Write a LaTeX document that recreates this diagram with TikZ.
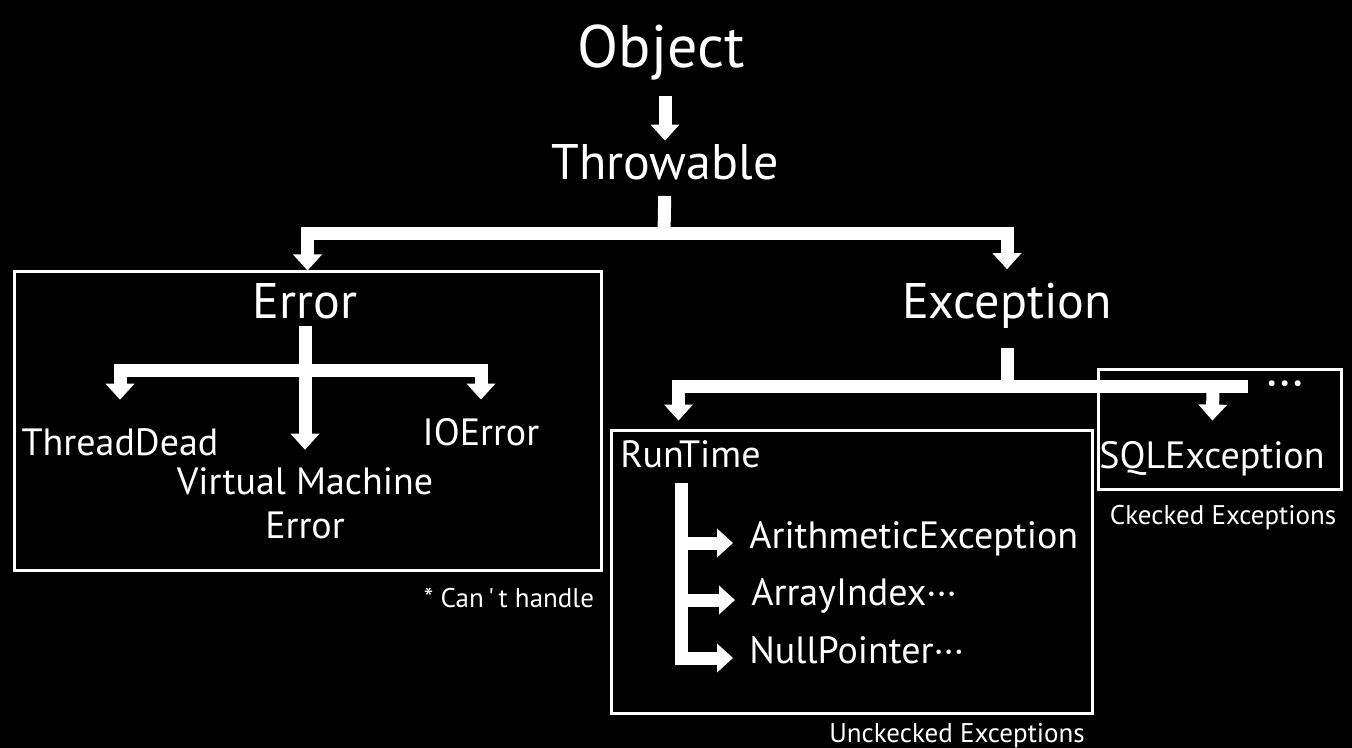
\documentclass[tikz,border=0pt]{standalone}
\usepackage{fontspec}
\setmainfont{PT Sans}
\usetikzlibrary{arrows.meta}
\tikzset{lbl/.style={text=white,inner sep=0pt,font=\fontsize{19}{22}\selectfont},big/.style={lbl,font=\fontsize{25}{28}\selectfont},note/.style={lbl,font=\fontsize{13.5}{15}\selectfont},frame/.style={draw=white,line width=1.5pt,inner sep=0pt},bar/.style={white,line width=6.5pt,line join=miter},flow/.style={bar,-{Triangle[width=14pt,length=8pt]}}}

\begin{document}
\begin{tikzpicture}[x=0.5pt,y=-0.5pt]
      \fill[black](0,0) rectangle (1352,748);
      % top of the tree
      \node[lbl,font=\fontsize{30}{34}\selectfont,anchor=base](obj) at (661,68){Object};
      \node[big,anchor=base](thr) at (665,180){Throwable};
      \node[big,anchor=base](err) at (305,318){Error};
      \node[big,anchor=base](exc) at (1007,318){Exception};
      % boxes
      \node[frame,minimum width=293.5pt,minimum height=149pt](errbox) at (307.5,421){};
      \node[frame,minimum width=240.5pt,minimum height=141.5pt](rtbox) at (851.5,571.5){};
      \node[frame,minimum width=121.5pt,minimum height=60pt](sqlbox) at (1219.5,429){};
      % error side
      \node[lbl,anchor=base](td) at (120,455){ThreadDead};
      \node[lbl,anchor=base](io) at (481,445){IOError};
      \node[lbl,anchor=base,align=center](vm) at (305,538){Virtual Machine\\Error};
      \node[note,anchor=base](cant) at (509,607){* Can\,\textquotesingle\,t handle};
      % exception side
      \node[lbl,anchor=base west](rt) at (620,467){RunTime};
      \node[lbl,anchor=base west](ae) at (749,548){ArithmeticException};
      \node[lbl,anchor=base west](ai) at (751,605){ArrayIndex···};
      \node[lbl,anchor=base west](np) at (749,663){NullPointer···};
      \node[lbl,anchor=base](sql) at (1212,468){SQLException};
      \node[big,anchor=base](more) at (1285,398){···};
      \node[note,anchor=base](chk) at (1223,524){Ckecked Exceptions};
      \node[note,anchor=base](unchk) at (957,742){Unckecked Exceptions};
      \coordinate(jT) at (664,234);
      \coordinate(jE) at (303,370);
      \coordinate(jX) at (1007,386);
      \coordinate(barend) at (1248,386);
      \coordinate(sqlj) at (1213,386);
      \coordinate(rtv) at (681,483);
      % connectors
      \draw[flow,shorten <=7.5pt,shorten >=2pt](thr.north |- obj.south)--(thr.north);
      \draw[bar,shorten <=7.5pt](thr.south)--(jT);
      \draw[flow](jT)-|(errbox.north);
      \draw[flow,shorten >=6.5pt](jT)-|(exc.north);
      \draw[flow,shorten <=3.5pt,shorten >=8.5pt](err.south)--(vm.north);
      \draw[flow,shorten >=14pt](jE)-|(td.north);
      \draw[flow,shorten >=9pt](jE)-|(io.north);
      \draw[bar,shorten <=10pt](exc.south)--(jX);
      \draw[flow,shorten >=4pt](jX)-|([xshift=34.5pt]rtbox.north west);
      \draw[bar](jX)--(barend);
      \draw[flow,shorten >=10pt](sqlj)--(sql.north);
      \draw[flow,shorten >=8pt](rtv)|-(ae.mid west);
      \draw[flow,shorten >=8pt](rtv)|-(ai.mid west);
      \draw[flow,shorten >=8pt](rtv)|-(np.mid west);
    \end{tikzpicture}
\end{document}
